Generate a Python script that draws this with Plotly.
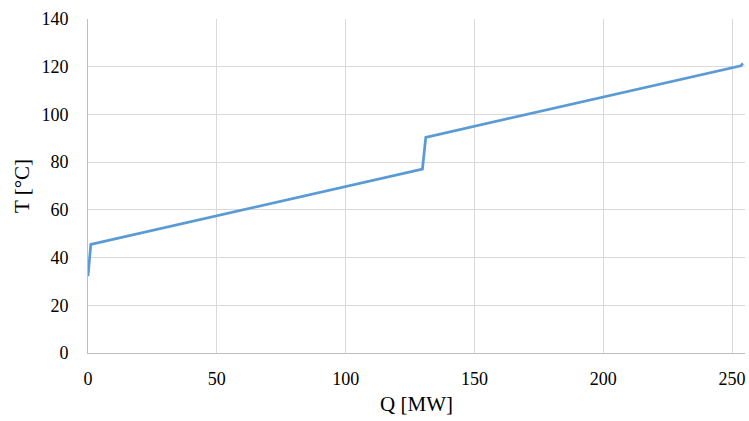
import plotly.graph_objects as go

q_mw = [0.0, 1.1, 129.8, 131.1, 253.4, 254.2]
t_c = [32.2, 45.5, 77.1, 90.4, 120.4, 121.4]

x_ticks = [0, 50, 100, 150, 200, 250]
y_ticks = [0, 20, 40, 60, 80, 100, 120, 140]

fig = go.Figure()
fig.add_trace(go.Scatter(x=q_mw, y=t_c, mode="lines",
                         line=dict(color="#5b9bd5", width=2.75), showlegend=False))

font = "Liberation Serif, Times New Roman, serif"
fig.update_layout(
    width=749, height=421,
    margin=dict(l=88, r=4, t=19, b=68),
    paper_bgcolor="white", plot_bgcolor="white",
    font=dict(family=font, color="#000000", size=18),
    xaxis=dict(range=[0, 255], tickvals=x_ticks, showgrid=True, gridcolor="#d9d9d9",
               gridwidth=1, showline=True, linecolor="#bfbfbf", linewidth=1,
               zeroline=False, ticks="", ticklabelstandoff=9,
               tickfont=dict(size=18, family=font),
               title=dict(text="Q [MW]", font=dict(size=21, family=font), standoff=8)),
    yaxis=dict(range=[0, 140], tickvals=y_ticks, showgrid=True, gridcolor="#d9d9d9",
               gridwidth=1, showline=True, linecolor="#bfbfbf", linewidth=1,
               zeroline=False, ticks="", ticklabelstandoff=15,
               tickfont=dict(size=18, family=font),
               title=dict(text="T [°C]", font=dict(size=21, family=font), standoff=6)),
)
fig.write_html("out.html")
